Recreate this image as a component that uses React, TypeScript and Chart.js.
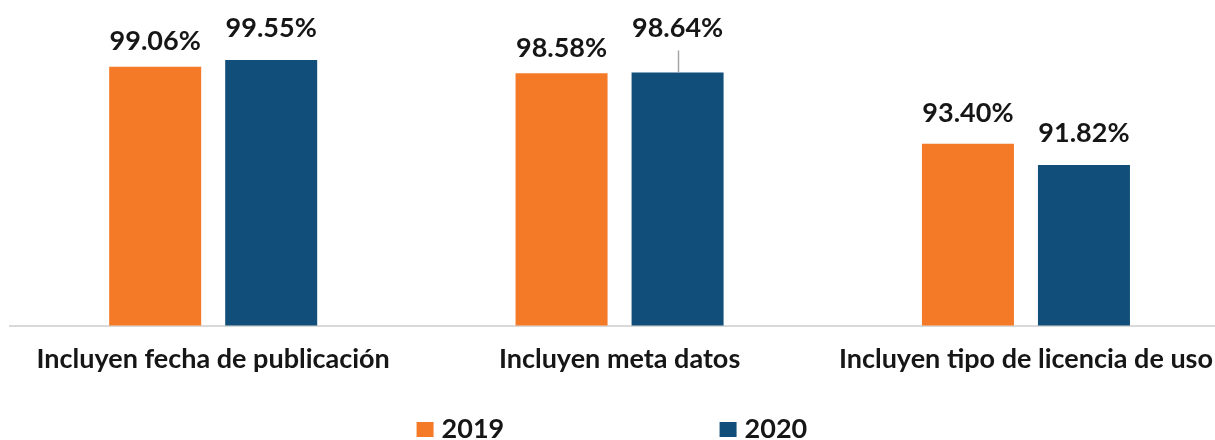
import { useEffect, useRef } from "react";
import { Chart, registerables } from "chart.js";

Chart.register(...registerables);

// ---- data ----
const categories = [
  "Incluyen fecha de publicación",
  "Incluyen meta datos",
  "Incluyen tipo de licencia de uso",
];
const seriesLabels = ["2019", "2020"];
const values2019 = [99.06, 98.58, 93.4];
const values2020 = [99.55, 98.64, 91.82];
const yMin = 80;
const yMax = 100;

// ---- styling ----
const COLORS = ["#F47A28", "#114F7A"];
const TEXT = "#161616";
const FONT = "Lato";
// distance (px) from bar top to label centre, per series / category
const LABEL_LIFT = [
  [25, 25, 30],
  [32, 44, 32],
];
const LEADER = [
  [false, false, false],
  [false, true, false],
];

const dataLabels = {
  id: "dataLabels",
  afterDatasetsDraw(chart: any) {
    const ctx = chart.ctx;
    ctx.save();
    ctx.font = `bold 27px ${FONT}`;
    ctx.fillStyle = TEXT;
    ctx.textAlign = "center";
    ctx.textBaseline = "middle";
    chart.data.datasets.forEach((ds: any, di: number) => {
      const meta = chart.getDatasetMeta(di);
      meta.data.forEach((el: any, i: number) => {
        const lift = LABEL_LIFT[di][i];
        const ty = el.y - lift;
        if (LEADER[di][i]) {
          ctx.save();
          ctx.strokeStyle = "#a6a6a6";
          ctx.lineWidth = 1.5;
          ctx.beginPath();
          ctx.moveTo(Math.round(el.x) + 0.5, el.y);
          ctx.lineTo(Math.round(el.x) + 0.5, ty + 22);
          ctx.stroke();
          ctx.restore();
        }
        ctx.fillText(ds.data[i].toFixed(2) + "%", el.x, ty);
      });
    });
    ctx.restore();
  },
};

const customLegend = {
  id: "customLegend",
  afterDraw(chart: any) {
    const ctx = chart.ctx;
    const xs = chart.scales.x;
    const mid = xs.getPixelForValue(1);
    const starts = [mid - 203, mid + 100];
    const y = 429;
    ctx.save();
    ctx.font = `bold 27px ${FONT}`;
    ctx.textBaseline = "middle";
    ctx.textAlign = "left";
    seriesLabels.forEach((lab, i) => {
      ctx.fillStyle = COLORS[i];
      ctx.fillRect(starts[i], y - 7, 17, 15);
      ctx.fillStyle = TEXT;
      ctx.fillText(lab, starts[i] + 25, y);
    });
    ctx.restore();
  },
};

export default function App() {
  const ref = useRef<HTMLCanvasElement | null>(null);
  useEffect(() => {
    if (!ref.current) return;
    const chart = new Chart(ref.current, {
      type: "bar",
      data: {
        labels: categories,
        datasets: [
          {
            label: seriesLabels[0],
            data: values2019,
            backgroundColor: COLORS[0],
            categoryPercentage: 0.571,
            barPercentage: 0.793,
          },
          {
            label: seriesLabels[1],
            data: values2020,
            backgroundColor: COLORS[1],
            categoryPercentage: 0.571,
            barPercentage: 0.793,
          },
        ],
      },
      options: {
        responsive: false,
        animation: false,
        layout: { padding: { top: 54, left: 10, right: 0, bottom: 48 } },
        plugins: {
          legend: { display: false },
          tooltip: { enabled: false },
        },
        scales: {
          x: {
            grid: { display: false, drawTicks: false },
            border: { display: true, color: "#d9d9d9", width: 2 },
            ticks: {
              color: TEXT,
              padding: 17,
              font: { family: FONT, size: 27, weight: "bold" },
              maxRotation: 0,
              autoSkip: false,
            },
          },
          y: {
            display: false,
            min: yMin,
            max: yMax,
          },
        },
      },
      plugins: [dataLabels, customLegend],
    });
    return () => chart.destroy();
  }, []);
  return (
    <div
      style={{
        position: "absolute",
        left: 0,
        top: 0,
        width: 1215,
        height: 440,
        overflow: "hidden",
        background: "#fff",
      }}
    >
      <canvas ref={ref} width={1230} height={440} />
    </div>
  );
}
